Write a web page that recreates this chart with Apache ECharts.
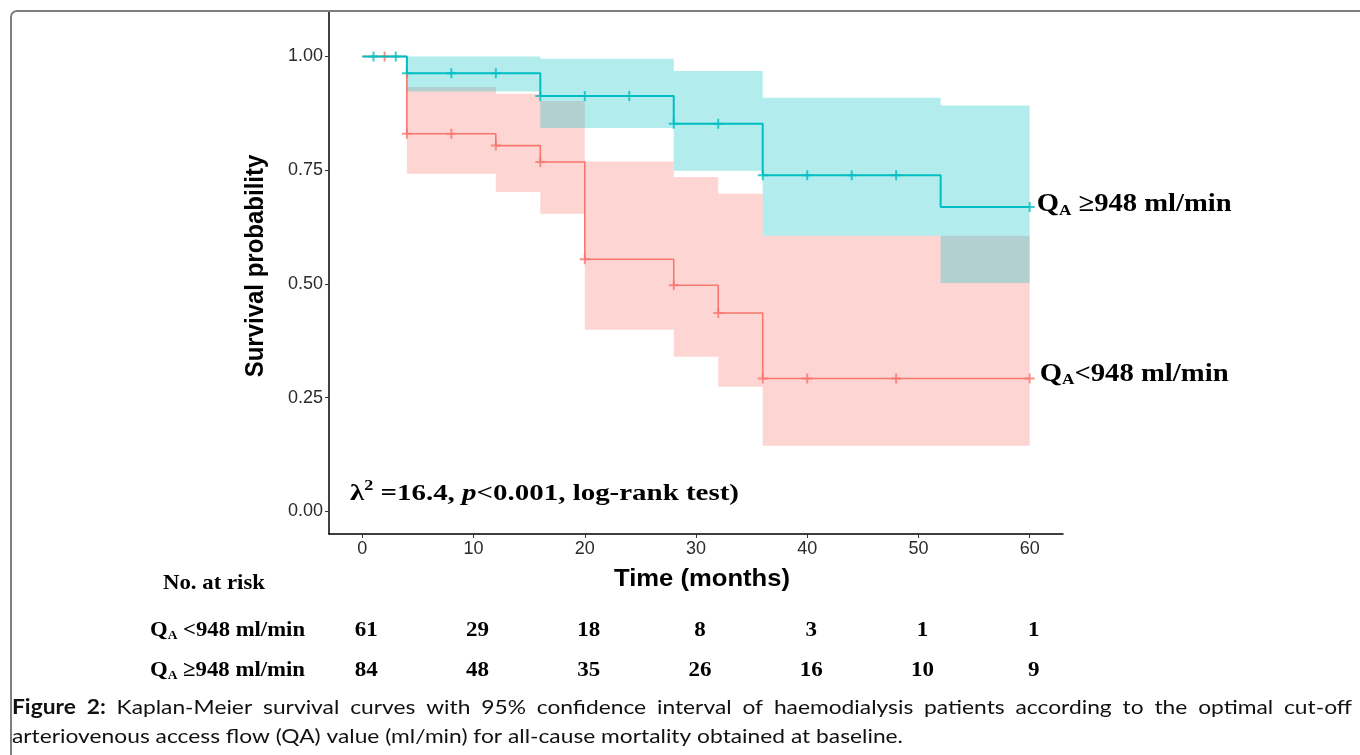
<!DOCTYPE html>
<html><head><meta charset="utf-8">
<script src="https://cdn.jsdelivr.net/npm/echarts@6/dist/echarts.min.js"></script>
<style>html,body{margin:0;padding:0;background:#fff}#c{width:1360px;height:755px}</style>
</head><body><div id="c"></div>
<script>
// ---------- data ----------
const redTimes = [0, 4, 12, 16, 20, 28, 32, 36, 60];
const redSurv  = [1, 0.830, 0.804, 0.768, 0.554, 0.497, 0.436, 0.292, 0.292];
const cyanTimes = [0, 4, 16, 28, 36, 52, 60];
const cyanSurv  = [1, 0.963, 0.913, 0.852, 0.739, 0.669, 0.669];
const redCensorT  = [2, 4, 8, 12, 16, 20, 28, 32, 36, 40, 48, 60];
const cyanCensorT = [1, 3, 4, 8, 12, 16, 20, 24, 28, 32, 36, 40, 44, 48, 60];
const redBandT  = [4, 12, 16, 20, 28, 32, 36, 60];
const redUpper  = [0.933, 0.918, 0.902, 0.769, 0.735, 0.698, 0.606];
const redLower  = [0.742, 0.702, 0.654, 0.399, 0.340, 0.274, 0.144];
const cyanBandT = [4, 16, 28, 36, 52, 60];
const cyanUpper = [1.000, 0.995, 0.968, 0.909, 0.892];
const cyanLower = [0.923, 0.843, 0.749, 0.606, 0.502];
const xTicks = [0, 10, 20, 30, 40, 50, 60];
const yTicks = [0, 0.25, 0.5, 0.75, 1];
const riskTimes = [0, 10, 20, 30, 40, 50, 60];
const riskLow  = [61, 29, 18, 8, 3, 1, 1];
const riskHigh = [84, 48, 35, 26, 16, 10, 9];

// ---------- helpers ----------
const RED = '#F8766D', CYAN = '#00BFC4';
function stepAt(times, vals, t) { let i = 0; while (i + 1 < times.length && times[i + 1] <= t) i++; return vals[i]; }
function bandPoly(T, U, L) {
  const pts = [];
  for (let i = 0; i < U.length; i++) { pts.push([T[i], U[i]]); pts.push([T[i + 1], U[i]]); }
  for (let i = L.length - 1; i >= 0; i--) { pts.push([T[i + 1], L[i]]); pts.push([T[i], L[i]]); }
  return pts;
}
const PLUS = 'path://M4,0H6V4H10V6H6V10H4V6H0V4H4Z';
const mctx = document.createElement('canvas').getContext('2d');
function measure(text, font) { mctx.font = font; return mctx.measureText(text).width; }
function textLine(pieces, x, y, targetW, align) {
  let cx = 0; const children = [];
  pieces.forEach(p => {
    children.push({ type: 'text', x: cx, y: p.dy || 0,
      style: { text: p.text, font: p.font, fill: p.fill || '#000', textAlign: 'left', textVerticalAlign: 'middle', align: 'left', verticalAlign: 'middle' } });
    cx += measure(p.text, p.font);
  });
  const sx = targetW ? targetW / cx : 1;
  const gx = align === 'center' ? x - cx * sx / 2 : x;
  return { type: 'group', x: gx, y: y, scaleX: sx, children };
}

const chart = echarts.init(document.getElementById('c'), null, { renderer: 'canvas' });
const axisFont = { color: '#2b2b2b', fontSize: 18, fontFamily: 'Liberation Sans' };
chart.setOption({
  animation: false,
  grid: { left: 329, right: 297, top: 11, bottom: 221, containLabel: false },
  xAxis: { type: 'value', min: -3, max: 63,
    axisLine: { show: true, onZero: false, lineStyle: { color: '#000', width: 1.5 } },
    axisTick: { show: true, customValues: xTicks, length: 4, lineStyle: { color: '#333' } },
    axisLabel: Object.assign({ customValues: xTicks, margin: 6 }, axisFont),
    splitLine: { show: false } },
  yAxis: { type: 'value', min: -0.05, max: 1.1,
    axisLine: { show: true, onZero: false, lineStyle: { color: '#000', width: 1.5 } },
    axisTick: { show: true, customValues: yTicks, length: 4, lineStyle: { color: '#333' } },
    axisLabel: Object.assign({ customValues: yTicks, margin: 6, formatter: v => v.toFixed(2) }, axisFont),
    splitLine: { show: false } },
  series: [
    { type: 'custom', data: [[4, 0.8]], encode: { x: 0, y: 1 }, silent: true,
      renderItem: (p, api) => ({ type: 'polygon', shape: { points: bandPoly(redBandT, redUpper, redLower).map(q => api.coord(q)) },
        style: { fill: 'rgba(248,118,109,0.3)' } }) },
    { type: 'custom', data: [[4, 0.8]], encode: { x: 0, y: 1 }, silent: true,
      renderItem: (p, api) => ({ type: 'polygon', shape: { points: bandPoly(cyanBandT, cyanUpper, cyanLower).map(q => api.coord(q)) },
        style: { fill: 'rgba(0,191,196,0.3)' } }) },
    { type: 'line', step: 'end', symbol: 'none', data: redTimes.map((t, i) => [t, redSurv[i]]),
      lineStyle: { color: RED, width: 1.6 } },
    { type: 'line', step: 'end', symbol: 'none', data: cyanTimes.map((t, i) => [t, cyanSurv[i]]),
      lineStyle: { color: CYAN, width: 2 } },
    { type: 'scatter', symbol: PLUS, symbolSize: 10, itemStyle: { color: RED },
      data: redCensorT.map(t => [t, stepAt(redTimes, redSurv, t)]) },
    { type: 'scatter', symbol: PLUS, symbolSize: 10, itemStyle: { color: CYAN },
      data: cyanCensorT.map(t => [t, stepAt(cyanTimes, cyanSurv, t)]) }
  ]
});

// ---------- annotations ----------
const px = (t, v) => chart.convertToPixel({ gridIndex: 0 }, [t, v]);
const S = (sz, extra) => (extra || 'bold') + ' ' + sz + 'px "Liberation Serif"';
const g = [];
g.push({ type: 'rect', shape: { x: 11, y: 11, width: 1420, height: 800, r: 6 }, style: { fill: 'none', stroke: '#7f7f7f', lineWidth: 2 }, z: 100 });
// axis titles
g.push(textLine([{ text: 'Time (months)', font: 'bold 24px "Liberation Sans"' }], 702, 579, 176, 'center'));
g.push({ type: 'text', x: 256, y: 266, rotation: Math.PI / 2, scaleY: 1.1,
  style: { text: 'Survival probability', font: 'bold 24px "Liberation Sans"', fill: '#000', textAlign: 'center', textVerticalAlign: 'middle', align: 'center', verticalAlign: 'middle' } });
// curve end labels
const endC = px(cyanTimes[cyanTimes.length - 1], cyanSurv[cyanSurv.length - 1]);
const endR = px(redTimes[redTimes.length - 1], redSurv[redSurv.length - 1]);
g.push(textLine([{ text: 'Q', font: S(25) }, { text: 'A', font: S(15), dy: 6 }, { text: ' \u2265948 ml/min', font: S(25) }], endC[0] + 7, endC[1] - 2, 195));
g.push(textLine([{ text: 'Q', font: S(25) }, { text: 'A', font: S(15), dy: 6 }, { text: '<948 ml/min', font: S(25) }], endR[0] + 10, endR[1] - 4, 189));
// log-rank text
g.push(textLine([{ text: '\u03bb', font: S(24) }, { text: '2', font: S(15), dy: -8 }, { text: ' =16.4, ', font: S(24) },
  { text: 'p', font: S(24, 'italic bold') }, { text: '<0.001, log-rank test)', font: S(24) }], 350, 494, 389));
// risk table
g.push(textLine([{ text: 'No. at risk', font: S(21) }], 163, 584, 102));
g.push(textLine([{ text: 'Q', font: S(22) }, { text: 'A', font: S(13), dy: 6 }, { text: ' <948 ml/min', font: S(22) }], 150, 630, 155));
g.push(textLine([{ text: 'Q', font: S(22) }, { text: 'A', font: S(13), dy: 6 }, { text: ' \u2265948 ml/min', font: S(22) }], 150, 670, 155));
riskTimes.forEach((t, i) => {
  const x = px(t, 0)[0] + 4;
  g.push(textLine([{ text: String(riskLow[i]), font: S(22) }], x, 630, String(riskLow[i]).length * 11.5, 'center'));
  g.push(textLine([{ text: String(riskHigh[i]), font: S(22) }], x, 670, String(riskHigh[i]).length * 11.5, 'center'));
});
// caption
const capFont = '20px Lato', capBold = 'bold 20px Lato';
const line2 = 'arteriovenous access flow (QA) value (ml/min) for all-cause mortality obtained at baseline.';
const csx = (903 - 12) / measure(line2, capFont);
const rest1 = 'Kaplan-Meier survival curves with 95% confidence interval of haemodialysis patients according to the optimal cut-off';
const words = [{ t: 'Figure', f: capBold }, { t: '2:', f: capBold }].concat(rest1.split(' ').map(w => ({ t: w, f: capFont })));
const ww = words.map(w => measure(w.t, w.f) * csx);
const gap = (1352 - 12 - ww.reduce((a, b) => a + b, 0)) / (words.length - 1);
let cx = 12;
words.forEach((w, i) => {
  g.push({ type: 'text', x: cx, y: 708, scaleX: csx, style: { text: w.t, font: w.f, fill: '#111', textAlign: 'left', textVerticalAlign: 'middle', align: 'left', verticalAlign: 'middle' } });
  cx += ww[i] + gap;
});
g.push({ type: 'text', x: 12, y: 737, scaleX: csx, style: { text: line2, font: capFont, fill: '#111', textAlign: 'left', textVerticalAlign: 'middle', align: 'left', verticalAlign: 'middle' } });
chart.setOption({ graphic: g });
</script>
</body></html>
